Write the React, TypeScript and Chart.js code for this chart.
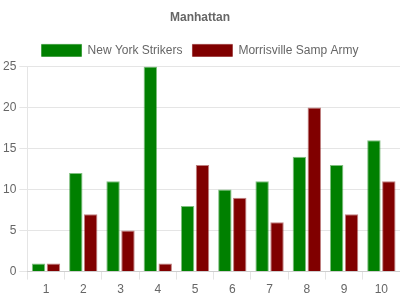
import React, { useEffect, useRef } from "react";
import { Chart, registerables } from "chart.js";

Chart.register(...registerables);

const categories = ["1", "2", "3", "4", "5", "6", "7", "8", "9", "10"];
const newYorkStrikers = [1, 12, 11, 25, 8, 10, 11, 14, 13, 16];
const morrisvilleSampArmy = [1, 7, 5, 1, 13, 9, 6, 20, 7, 11];

export default function App() {
  const ref = useRef<HTMLCanvasElement>(null);
  useEffect(() => {
    document.body.style.margin = "0";
    const chart = new Chart(ref.current!, {
      type: "bar",
      data: {
        labels: categories,
        datasets: [
          {
            label: "New York Strikers",
            data: newYorkStrikers,
            backgroundColor: "#008000",
            borderColor: "rgba(0,128,0,0.5)",
            borderWidth: 1,
          },
          {
            label: "Morrisville Samp Army",
            data: morrisvilleSampArmy,
            backgroundColor: "#800000",
            borderColor: "rgba(128,0,0,0.5)",
            borderWidth: 1,
          },
        ],
      },
      options: {
        animation: false,
        responsive: false,
        plugins: {
          title: {
            display: true,
            text: "Manhattan",
            color: "#666",
            font: { size: 12, weight: "bold" },
          },
          legend: {
            labels: { color: "#666", font: { size: 12 }, boxWidth: 40 },
          },
          tooltip: { enabled: false },
        },
        scales: {
          x: {
            grid: { drawOnChartArea: false, drawTicks: true, tickLength: 8 },
            ticks: { color: "#666" },
          },
          y: {
            min: 0,
            max: 25,
            ticks: { stepSize: 5, color: "#666" },
            grid: { tickLength: 8 },
          },
        },
      },
    });
    return () => chart.destroy();
  }, []);
  return (
    <div style={{ width: 400, height: 300 }}>
      <canvas ref={ref} width={400} height={300} />
    </div>
  );
}
